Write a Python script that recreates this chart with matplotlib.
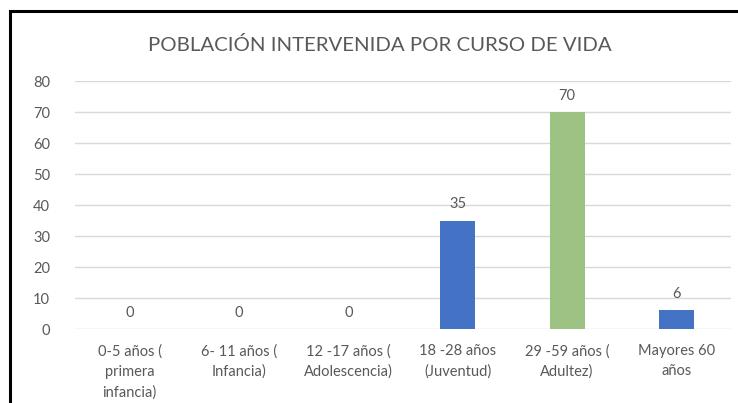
import matplotlib.pyplot as plt
import matplotlib.patches as patches
import numpy as np

categories = ['0-5 años (\nprimera\ninfancia)', '6- 11 años (\nInfancia)', '12 -17 años (\nAdolescencia)',
              '18 -28 años\n(Juventud)', '29 -59 años (\nAdultez)', 'Mayores 60\naños']
values = [0, 0, 0, 35, 70, 6]
colors = ['#4472C4', '#4472C4', '#4472C4', '#4472C4', '#9DC384', '#4472C4']

plt.rcParams['font.family'] = ['Lato', 'DejaVu Sans']
text_color = '#595959'

fig = plt.figure(figsize=(7.38, 4.03), dpi=100)
ax = fig.add_axes([0.1016, 0.1836, 0.889, 0.615])

x = np.arange(len(values))
bars = ax.bar(x, values, width=0.32, color=colors, zorder=3)

for bar, value in zip(bars, values):
    ax.text(bar.get_x() + bar.get_width() / 2, value + 3, str(value), ha='center', va='bottom',
            fontsize=10.5, color=text_color)

ax.set_ylim(0, 80)
ax.set_xlim(-0.5, len(values) - 0.5)
ax.set_yticks(range(0, 81, 10))
ax.set_xticks(x)
ax.set_xticklabels(categories, fontsize=10.5, color=text_color, linespacing=1.55)
ax.tick_params(axis='y', labelsize=10.5, labelcolor=text_color, length=0, pad=18)
ax.tick_params(axis='x', length=0, pad=11)
ax.yaxis.grid(True, color='#d9d9d9', linewidth=1, zorder=0)
for s in ax.spines.values():
    s.set_visible(False)

fig.text(0.515, 0.888, 'POBLACIÓN INTERVENIDA POR CURSO DE VIDA', ha='center', va='center',
         fontsize=14.7, color=text_color)

# black frame (only left and top edges visible in the crop)
frame = patches.Rectangle((9.5 / 738, -0.05), 1.2, 1.05 - 11.5 / 403, transform=fig.transFigure,
                          fill=False, edgecolor='black', linewidth=2.2)
fig.patches.append(frame)

fig.savefig('out.png', dpi=100)
